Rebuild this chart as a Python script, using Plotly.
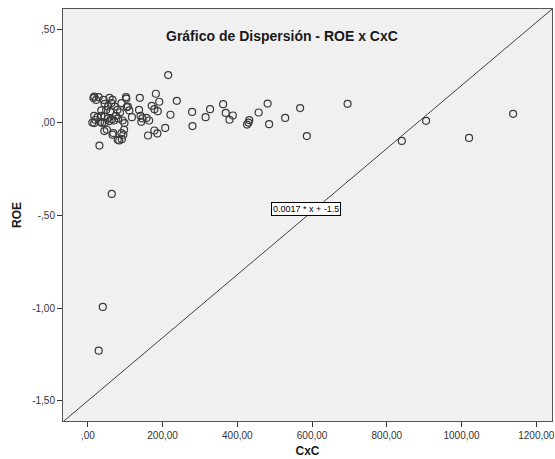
import plotly.graph_objects as go

# CxC (cuentas por cobrar) vs ROE observations
cxc = [12, 17, 15, 17, 29, 22, 42, 45, 54, 63, 66, 58, 72, 79, 86, 75, 65, 54, 45, 36,
       26, 17, 20, 33, 45, 58, 70, 81, 93, 98, 97, 90, 68, 51, 44, 38, 60, 49, 36, 103,
       107, 90, 31, 66, 80, 102, 139, 182, 191, 171, 178, 187, 104, 111, 141, 146, 157,
       164, 143, 118, 95, 91, 84, 161, 178, 186, 207, 221, 279, 280, 215, 238, 137,
       327, 315, 362, 369, 379, 388, 432, 430, 426, 457, 481, 485, 528, 568, 586, 695,
       840, 905, 1020, 1138, 64, 40, 29]
roe = [0.000, -0.003, 0.132, 0.140, 0.137, 0.122, 0.122, 0.101, 0.086, 0.105, 0.122,
       0.133, 0.086, 0.068, 0.054, 0.036, 0.018, 0.022, 0.032, 0.036, 0.029, 0.036,
       0.015, 0.004, 0.000, 0.008, 0.011, 0.022, 0.011, -0.003, -0.039, -0.057, -0.057,
       -0.039, -0.046, -0.003, 0.061, 0.068, 0.065, 0.129, 0.086, 0.105, -0.124, -0.066,
       -0.093, 0.137, 0.133, 0.155, 0.112, 0.090, 0.072, 0.061, 0.083, 0.065, 0.036,
       0.022, 0.025, 0.011, 0.004, 0.029, -0.066, -0.090, -0.097, -0.070, -0.043,
       -0.059, -0.029, 0.042, 0.057, -0.019, 0.256, 0.117, 0.068,
       0.072, 0.029, 0.099, 0.052, 0.015, 0.038, 0.013, 0.000, -0.011, 0.054, 0.102,
       -0.009, 0.025, 0.078, -0.073, 0.101, -0.099, 0.009, -0.083, 0.047, -0.385,
       -0.994, -1.230]

# Fitted line
slope = 0.0017
intercept = -1.5

x_ticks = [0, 200, 400, 600, 800, 1000, 1200]
x_tick_labels = [",00", "200,00", "400,00", "600,00", "800,00", "1000,00", "1200,00"]
y_ticks = [0.5, 0, -0.5, -1.0, -1.5]
y_tick_labels = [",50", ",00", "-,50", "-1,00", "-1,50"]

x_range = [-66.5, 1242]
y_range = [-1.609, 0.612]

fig = go.Figure()

fig.add_trace(go.Scatter(
    x=x_range,
    y=[slope * v + intercept for v in x_range],
    mode="lines",
    line=dict(color="#404040", width=1),
    hoverinfo="skip",
))

fig.add_trace(go.Scatter(
    x=cxc, y=roe, mode="markers",
    marker=dict(symbol="circle-open", size=7, color="#3a3a3a",
                line=dict(color="#3a3a3a", width=1.2)),
))

font_family = "Liberation Sans, Arial, sans-serif"

# Chart title drawn inside the plotting area
fig.add_annotation(
    x=520, y=0.464, xref="x", yref="y",
    text="<b>Gráfico de Dispersión - ROE x CxC</b>", showarrow=False,
    font=dict(family=font_family, size=14, color="#1a1a1a"),
)

# Equation label of the fitted line
fig.add_annotation(
    x=583, y=-0.468, xref="x", yref="y",
    text=f"{slope} * x + {intercept}", showarrow=False,
    font=dict(family=font_family, size=9, color="#000000"),
    bgcolor="#ffffff", bordercolor="#000000", borderwidth=1, borderpad=1,
)

fig.update_layout(
    width=555, height=459,
    margin=dict(l=63, r=0, t=9, b=38),
    paper_bgcolor="#ffffff",
    plot_bgcolor="#f0f0f0",
    showlegend=False,
    font=dict(family=font_family, size=10, color="#333333"),
    xaxis=dict(
        range=x_range, tickvals=x_ticks, ticktext=x_tick_labels,
        showgrid=False, zeroline=False,
        showline=True, linecolor="#555555", linewidth=1, mirror=True,
        ticks="outside", ticklen=5, tickcolor="#333333",
        ticklabeloverflow="allow",
        title=dict(text="<b>CxC</b>", font=dict(size=12, color="#1a1a1a"), standoff=6),
    ),
    yaxis=dict(
        range=y_range, tickvals=y_ticks, ticktext=y_tick_labels,
        showgrid=False, zeroline=False,
        showline=True, linecolor="#555555", linewidth=1, mirror=True,
        ticks="outside", ticklen=5, tickcolor="#333333",
        title=dict(text="<b>ROE</b>", font=dict(size=12, color="#1a1a1a"), standoff=8),
    ),
)

fig.write_html("out.html")
